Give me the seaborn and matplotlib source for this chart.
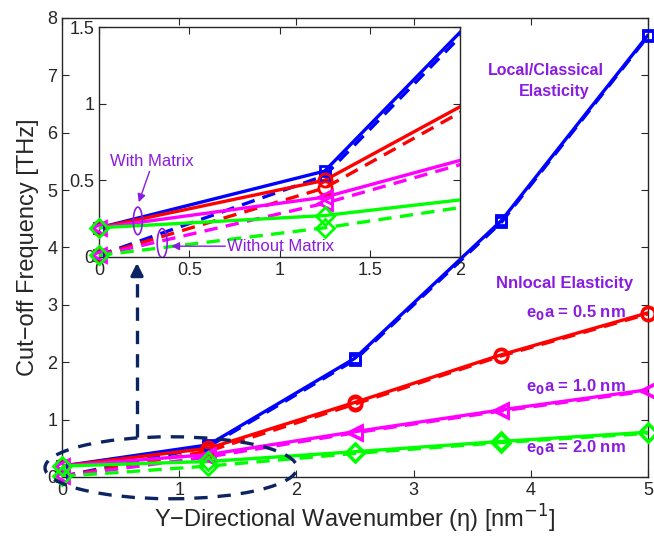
import seaborn as sns
import numpy as np
import matplotlib.pyplot as plt
import pandas as pd
from matplotlib.patches import Ellipse

## wavenumber points (nm^-1)
eta = [0, 1.25, 2.5, 3.75, 5]

## cut-off frequency (THz), with matrix (solid) / without matrix (dashed)
local_wm = [0.19, 0.56, 2.07, 4.47, 7.70]
local_wo = [0.01, 0.53, 2.04, 4.44, 7.68]
e05_wm = [0.19, 0.50, 1.30, 2.13, 2.86]
e05_wo = [0.01, 0.45, 1.27, 2.11, 2.84]
e10_wm = [0.19, 0.39, 0.79, 1.17, 1.52]
e10_wo = [0.01, 0.35, 0.77, 1.15, 1.50]
e20_wm = [0.19, 0.27, 0.44, 0.62, 0.78]
e20_wo = [0.01, 0.19, 0.41, 0.60, 0.76]

series = [
    (local_wm, local_wo, '#0000ff', 's', 7),
    (e05_wm, e05_wo, '#ff0000', 'o', 9.5),
    (e10_wm, e10_wo, '#ff00ff', '<', 10.5),
    (e20_wm, e20_wo, '#00ff00', 'D', 9),
]

purple = '#8a1be0'
navy = '#0c2461'

sns.set_style('ticks')
plt.rcParams['font.family'] = ['Liberation Sans', 'DejaVu Sans']


def draw(ax, xmax):
    for wm, wo, col, mk, ms in series:
        for vals, ls in [(wo, (0, (4, 2.5))), (wm, '-')]:
            df = pd.DataFrame({'eta': eta, 'freq': vals})
            sns.lineplot(data=df, x='eta', y='freq', ax=ax, color=col,
                         linewidth=2.4, linestyle=ls, zorder=3)
            sub = df[df['eta'] <= xmax]
            ax.plot(sub['eta'], sub['freq'], linestyle='none', marker=mk,
                    markersize=ms, markerfacecolor='none', markeredgecolor=col,
                    markeredgewidth=2, clip_on=False, zorder=4)
    ax.set_xlabel('')
    ax.set_ylabel('')
    ax.tick_params(direction='in', top=True, right=True, labelsize=13, length=5)
    for s in ax.spines.values():
        s.set_linewidth(1.0)
        s.set_visible(True)


fig = plt.figure(figsize=(6.54, 5.42), dpi=100)
ax = fig.add_axes([0.0948, 0.12, 0.896, 0.847])
draw(ax, 5)
ax.set_xlim(0, 5)
ax.set_ylim(0, 8)
ax.set_xticks(range(0, 6))
ax.set_yticks(range(0, 9))
ax.set_xlabel('Y\u2212Directional Wavenumber (\u03b7) [nm$^{-1}$]', fontsize=17, labelpad=3)
ax.set_ylabel('Cut\u2212off Frequency [THz]', fontsize=17, labelpad=6)

# annotations on main plot
ax.text(4.13, 7.08, 'Local/Classical', color=purple, fontsize=11.5,
        fontweight='bold', ha='center', va='center')
ax.text(4.2, 6.72, 'Elasticity', color=purple, fontsize=11.5,
        fontweight='bold', ha='center', va='center')
ax.text(4.29, 3.38, 'Nnlocal Elasticity', color=purple, fontsize=12,
        fontweight='bold', ha='center', va='center')
for txt, yy in [('0.5', 2.86), ('1.0', 1.585), ('2.0', 0.505)]:
    ax.text(4.81, yy, 'e$_\\mathbf{0}$a = ' + txt + ' nm', color=purple, fontsize=12,
            fontweight='bold', ha='right', va='center')

ax.add_patch(Ellipse((0.93, 0.16), 2.15, 1.08, fill=False, edgecolor=navy,
                     linewidth=2.4, linestyle=(0, (4, 3)), clip_on=False, zorder=5))
ax.plot([0.64, 0.64], [0.69, 3.5], color=navy, linewidth=2.4,
        linestyle=(0, (4, 3)), clip_on=False, zorder=5)
ax.annotate('', xy=(0.64, 3.78), xytext=(0.64, 3.45),
            arrowprops=dict(arrowstyle='-|>', color=navy, lw=2.4, mutation_scale=18),
            annotation_clip=False, zorder=5)

# inset
axin = fig.add_axes([0.1514, 0.526, 0.552, 0.424], zorder=10)
axin.set_facecolor('white')
draw(axin, 2)
axin.set_xlim(0, 2)
axin.set_ylim(0, 1.5)
axin.set_xticks([0, 0.5, 1, 1.5, 2])
axin.set_xticklabels(['0', '0.5', '1', '1.5', '2'])
axin.set_yticks([0, 0.5, 1, 1.5])
axin.set_yticklabels(['0', '0.5', '1', '1.5'])

axin.text(0.29, 0.62, 'With Matrix', color=purple, fontsize=12, ha='center', va='center')
axin.annotate('', xy=(0.215, 0.34), xytext=(0.285, 0.575),
              arrowprops=dict(arrowstyle='-|>', color=purple, lw=1.0, mutation_scale=12))
axin.add_patch(Ellipse((0.215, 0.235), 0.05, 0.18, fill=False, edgecolor=purple,
                       linewidth=1.2, zorder=6))
axin.text(0.71, 0.07, 'Without Matrix', color=purple, fontsize=12, ha='left', va='center')
axin.annotate('', xy=(0.385, 0.07), xytext=(0.715, 0.07),
              arrowprops=dict(arrowstyle='-|>', color=purple, lw=1.0, mutation_scale=12))
axin.add_patch(Ellipse((0.35, 0.09), 0.055, 0.19, fill=False, edgecolor=purple,
                       linewidth=1.2, zorder=6))

plt.savefig('out.png', dpi=100)
